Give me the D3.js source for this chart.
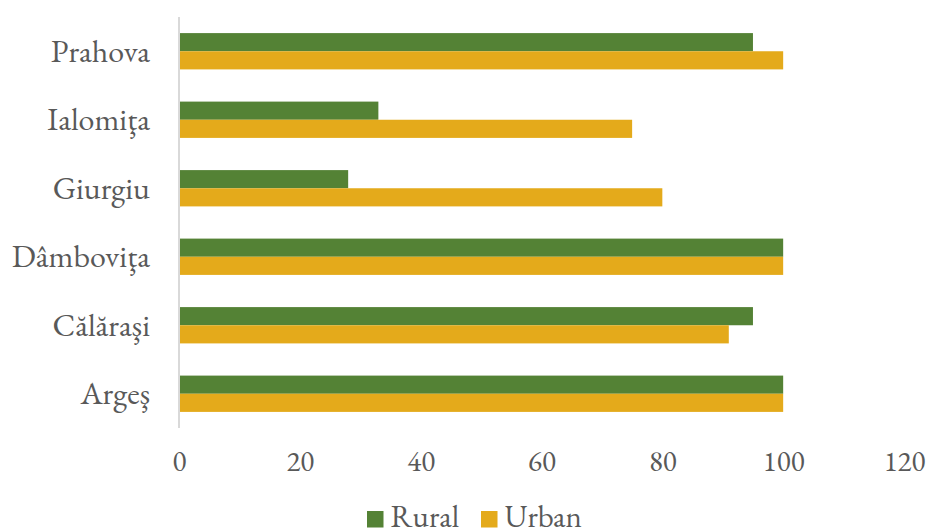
<!DOCTYPE html>
<html><head><meta charset="utf-8">
<script src="https://cdn.jsdelivr.net/npm/d3@7"></script>
<style>html,body{margin:0;padding:0;background:#fff;overflow:hidden}</style>
</head><body>
<script>
const categories = ["Prahova", "Ialomiţa", "Giurgiu", "Dâmboviţa", "Călăraşi", "Argeş"];
const seriesNames = ["Rural", "Urban"];
const rural = [95, 33, 28, 100, 95, 100];
const urban = [100, 75, 80, 100, 91, 100];
const xTicks = [0, 20, 40, 60, 80, 100, 120];
const colors = ["#548235", "#E4AA1B"];

const W = 927, H = 530;
const font = "EB Garamond, Liberation Serif, serif";
const textColor = "#595959";

const svg = d3.select("body").append("svg").attr("width", W).attr("height", H);

const x = d3.scaleLinear().domain([0, 120]).range([179, 904]);
const y = d3.scaleBand().domain(categories).range([17, 428]).paddingInner(0.47).paddingOuter(0.235);
const ySub = d3.scaleBand().domain(seriesNames).range([0, y.bandwidth()]);

const seriesValues = [rural, urban];

categories.forEach((c, i) => {
  seriesNames.forEach((s, j) => {
    svg.append("rect")
      .attr("x", x(0))
      .attr("y", y(c) + ySub(s))
      .attr("width", x(seriesValues[j][i]) - x(0))
      .attr("height", ySub.bandwidth())
      .attr("fill", colors[j]);
  });
});

svg.append("line")
  .attr("x1", x(0)).attr("x2", x(0))
  .attr("y1", 17).attr("y2", 428)
  .attr("stroke", "#D9D9D9").attr("stroke-width", 2);

const yAxis = d3.axisLeft(y).tickSize(0).tickPadding(0);
const gy = svg.append("g").attr("transform", `translate(150,0)`).call(yAxis);
gy.select(".domain").remove();
gy.attr("font-family", null).attr("font-size", null);
gy.selectAll("text")
  .style("font-family", font).style("font-size", "32px")
  .attr("fill", textColor).attr("dy", "0.32em");

const xAxis = d3.axisBottom(x).tickValues(xTicks).tickSize(0).tickPadding(0);
const gx = svg.append("g").attr("transform", `translate(0,450)`).call(xAxis);
gx.select(".domain").remove();
gx.attr("font-family", null).attr("font-size", null);
gx.selectAll("text")
  .style("font-family", font).style("font-size", "29px")
  .attr("fill", textColor).attr("dy", "0.71em");

const legX = [367, 481];
seriesNames.forEach((s, j) => {
  svg.append("rect").attr("x", legX[j]).attr("y", 511).attr("width", 16.5).attr("height", 16.5).attr("fill", colors[j]);
  svg.append("text").attr("x", legX[j] + 23.5).attr("y", 527)
    .style("font-family", font).style("font-size", "31px").attr("fill", textColor).text(s);
});
</script>
</body></html>
